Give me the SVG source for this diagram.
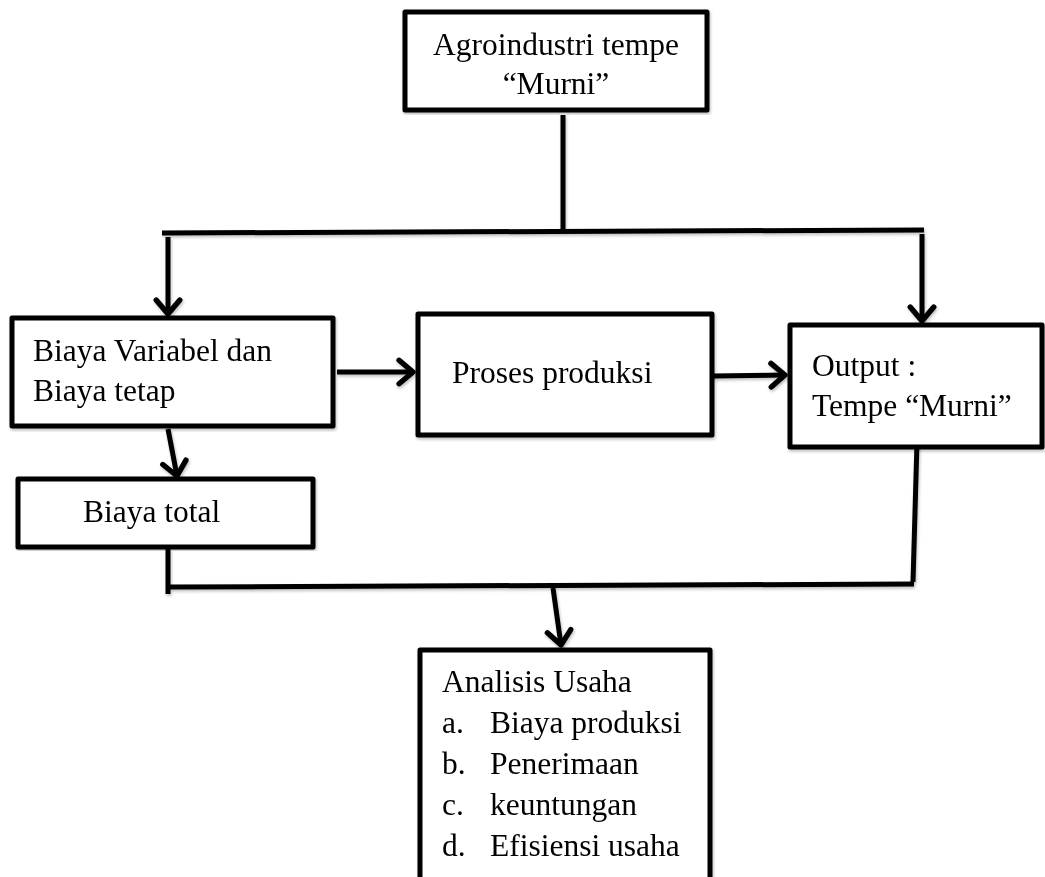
<svg xmlns="http://www.w3.org/2000/svg" width="1045" height="877" viewBox="0 0 1045 877">
<style>
.box{fill:#fff;stroke:#000;stroke-width:5;stroke-linejoin:round}
.ln{fill:none;stroke:#000;stroke-width:5;stroke-linecap:butt}
.t{font-family:"Liberation Serif","Times New Roman",serif;font-size:31.5px;fill:#000}
</style>
<defs>
<marker id="ah" markerUnits="userSpaceOnUse" markerWidth="30" markerHeight="30" refX="0" refY="0" viewBox="-16 -14 20 28" orient="auto" overflow="visible">
<path d="M-13,-11 L0,0 L-13,11" fill="none" stroke="#000" stroke-width="5" stroke-linecap="round" stroke-linejoin="round"/>
</marker>
<filter id="sh" x="-5%" y="-5%" width="110%" height="110%">
<feDropShadow dx="1" dy="2" stdDeviation="1.5" flood-color="#000" flood-opacity="0.25"/>
</filter>
</defs>
<g id="connectors" filter="url(#sh)">
<line class="ln" x1="563" y1="115" x2="563" y2="231"/>
<line class="ln" x1="162" y1="233" x2="924" y2="230"/>
<line class="ln" x1="168" y1="237" x2="168" y2="314" marker-end="url(#ah)"/>
<line class="ln" x1="922" y1="234" x2="922" y2="321" marker-end="url(#ah)"/>
<line class="ln" x1="337" y1="372" x2="413" y2="372" marker-end="url(#ah)"/>
<line class="ln" x1="713" y1="376" x2="785" y2="375" marker-end="url(#ah)"/>
<line class="ln" x1="168" y1="429" x2="177" y2="476" marker-end="url(#ah)"/>
<line class="ln" x1="168" y1="549" x2="168" y2="594"/>
<line class="ln" x1="170" y1="587" x2="914" y2="584"/>
<line class="ln" x1="917" y1="442" x2="913" y2="582"/>
<line class="ln" x1="553" y1="588" x2="561" y2="645" marker-end="url(#ah)"/>
</g>
<g id="n-agro" filter="url(#sh)">
<rect class="box" x="405" y="12" width="302" height="98"/>
<text class="t" x="556" y="55" text-anchor="middle">Agroindustri tempe</text>
<text class="t" x="556" y="94" text-anchor="middle">“Murni”</text>
</g>
<g id="n-biaya" filter="url(#sh)">
<rect class="box" x="12" y="318" width="321" height="108"/>
<text class="t" x="33" y="361">Biaya Variabel dan</text>
<text class="t" x="33" y="401">Biaya tetap</text>
</g>
<g id="n-proses" filter="url(#sh)">
<rect class="box" x="418" y="314" width="294" height="121"/>
<text class="t" x="452" y="383">Proses produksi</text>
</g>
<g id="n-output" filter="url(#sh)">
<rect class="box" x="790" y="325" width="252" height="122"/>
<text class="t" x="812" y="376">Output :</text>
<text class="t" x="812" y="416">Tempe “Murni”</text>
</g>
<g id="n-total" filter="url(#sh)">
<rect class="box" x="18" y="479" width="295" height="68"/>
<text class="t" x="83" y="522">Biaya total</text>
</g>
<g id="n-analisis" filter="url(#sh)">
<rect class="box" x="420" y="650" width="290" height="240"/>
<text class="t" x="442" y="692">Analisis Usaha</text>
<text class="t" x="442" y="733">a.</text><text class="t" x="490" y="733">Biaya produksi</text>
<text class="t" x="442" y="774">b.</text><text class="t" x="490" y="774">Penerimaan</text>
<text class="t" x="442" y="815">c.</text><text class="t" x="490" y="815">keuntungan</text>
<text class="t" x="442" y="856">d.</text><text class="t" x="490" y="856">Efisiensi usaha</text>
</g>
</svg>
